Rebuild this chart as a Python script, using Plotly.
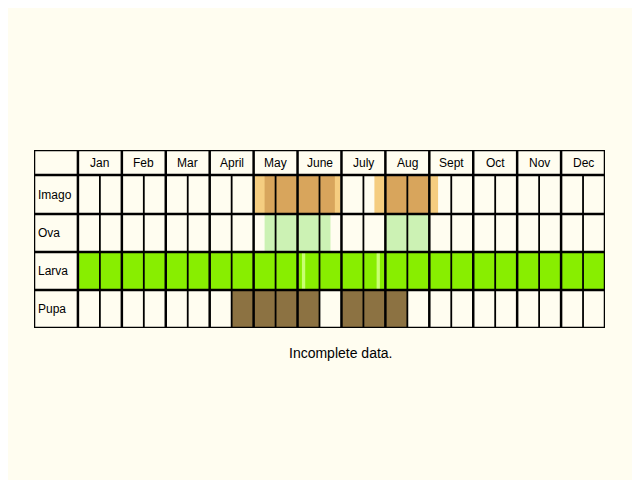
import plotly.graph_objects as go

months = ["Jan","Feb","Mar","April","May","June","July","Aug","Sept","Oct","Nov","Dec"]
stages = ["Imago","Ova","Larva","Pupa"]
# row edges in pixel-like units (header first)
row_edges = [0, 25, 64, 102, 140, 178]
# intervals in half-month units: (stage, start, end, color)
spans = [
    ("Imago", 8.05, 11.95, "#f5cd80"),
    ("Imago", 8.5, 11.7, "#d8a55c"),
    ("Imago", 13.5, 16.4, "#f5cd80"),
    ("Imago", 14.0, 15.95, "#d8a55c"),
    ("Ova", 8.5, 11.5, "#ccf2b4"),
    ("Ova", 14.0, 16.0, "#ccf2b4"),
    ("Larva", 0, 24, "#88ee00"),
    ("Larva", 10.2, 10.35, "#c8ff70"),
    ("Larva", 13.6, 13.75, "#c8ff70"),
    ("Pupa", 7.0, 11.0, "#8c7242"),
    ("Pupa", 12.0, 15.0, "#8c7242"),
]

fig = go.Figure()
for st, s, e, c in spans:
    i = stages.index(st) + 1
    y0, y1 = row_edges[i], row_edges[i+1]
    fig.add_trace(go.Bar(orientation="h", y=[(y0+y1)/2], x=[e-s], base=[s], width=[y1-y0],
                         marker=dict(color=c, line=dict(width=0)), showlegend=False, hoverinfo="skip"))

shapes = []
for k in range(25):
    thick = (k % 2 == 0)
    y0 = 0 if thick else row_edges[1]
    shapes.append(dict(type="line", x0=k, x1=k, y0=y0, y1=row_edges[-1],
                       line=dict(color="black", width=2.5 if thick else 1.8)))
shapes.append(dict(type="line", x0=-2, x1=-2, y0=0, y1=row_edges[-1], line=dict(color="black", width=2.5)))
for y in row_edges:
    shapes.append(dict(type="line", x0=-2, x1=24, y0=y, y1=y, line=dict(color="black", width=2.5)))

ann = []
for m, name in enumerate(months):
    ann.append(dict(x=2*m+1, y=(row_edges[0]+row_edges[1])/2, text=name, showarrow=False,
                    font=dict(size=12, color="black")))
for i, st in enumerate(stages):
    ann.append(dict(x=-2, xanchor="left", xshift=2, y=(row_edges[i+1]+row_edges[i+2])/2, text=st,
                    showarrow=False, font=dict(size=12, color="black")))
ann.append(dict(xref="paper", yref="paper", x=(341-34)/571, y=-(363-328)/178, text="Incomplete data.",
                showarrow=False, font=dict(size=14, color="black")))

fig.update_layout(
    width=640, height=480, barmode="overlay",
    margin=dict(l=26, r=43, t=142, b=160),
    paper_bgcolor="#fffdf0", plot_bgcolor="#fffdf0",
    xaxis=dict(range=[-2, 24], visible=False, fixedrange=True),
    yaxis=dict(range=[178, 0], visible=False, fixedrange=True),
    shapes=shapes, annotations=ann,
    font=dict(family="Liberation Sans, Arial, sans-serif"),
)
fig.write_html("out.html")
